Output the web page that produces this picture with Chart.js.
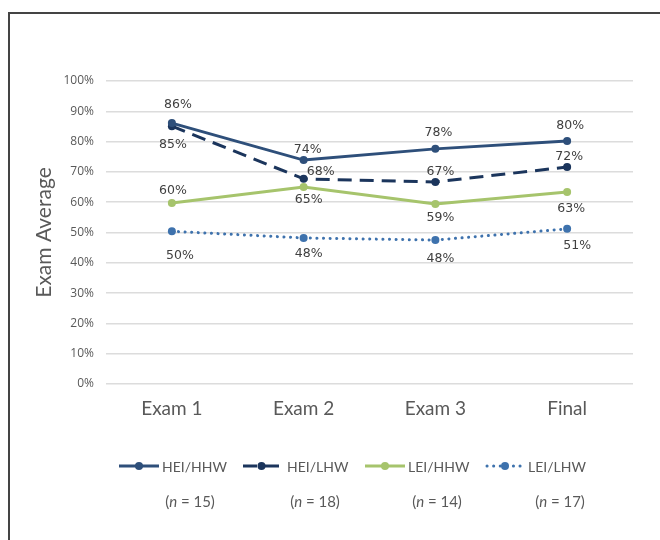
<!DOCTYPE html>
<html>
<head>
<meta charset="utf-8">
<script src="https://cdn.jsdelivr.net/npm/chart.js@4.4.1/dist/chart.umd.min.js"></script>
<style>
  html, body { margin: 0; padding: 0; background: #fff; }
  #wrap { width: 660px; height: 540px; position: relative; }
</style>
</head>
<body>
<div id="wrap"><canvas id="examChart" width="660" height="540"></canvas></div>
<script>
// Data
const categories = ["Exam 1", "Exam 2", "Exam 3", "Final"];
const seriesNames = ["HEI/HHW", "HEI/LHW", "LEI/HHW", "LEI/LHW"];
const groupSizes = [15, 18, 14, 17];
const heiHhw = [86.1, 73.9, 77.6, 80.2];
const heiLhw = [85.1, 67.7, 66.7, 71.6];
const leiHhw = [59.7, 65.0, 59.4, 63.4];
const leiLhw = [50.4, 48.2, 47.5, 51.2];

// Colours
const COLORS = ["#2e4f7a", "#1b355c", "#a6c46c", "#3e72ad"];
const TEXT_GREY = "#595959";

// where each value label sits, relative to its point [dx, dy]
const labelOffsets = [
  [[6, -18], [4, -10], [3, -16], [3, -15]],
  [[1, 19], [17, -7], [5, -10], [2, -10]],
  [[1, -12], [5, 13], [5, 14], [4, 17]],
  [[8, 24], [5, 16], [5, 19], [10, 17]]
];

// legend positions: line start, line end, text start
const legendItems = [
  [119, 159, 162],
  [243, 280, 287],
  [365, 405, 408],
  [487, 523, 528]
];
const legendY = 466;
const nCenters = [190, 315, 437, 560];
const nY = 502;

const makeDataset = (index, values, dash, cap) => {
  return {
    label: seriesNames[index],
    data: values,
    borderColor: COLORS[index],
    backgroundColor: COLORS[index],
    pointBackgroundColor: COLORS[index],
    pointBorderColor: COLORS[index],
    borderWidth: 3,
    borderDash: dash,
    borderCapStyle: cap,
    pointRadius: 4,
    pointBorderWidth: 0,
    pointHoverRadius: 4,
    tension: 0,
    fill: false
  };
};

// value labels next to each point
const valueLabels = {
  id: "valueLabels",
  afterDatasetsDraw(chart) {
    const ctx = chart.ctx;
    ctx.save();
    ctx.font = "12.5px 'DejaVu Sans'";
    ctx.fillStyle = "#404040";
    ctx.textAlign = "center";
    ctx.textBaseline = "middle";
    chart.data.datasets.forEach((dataset, i) => {
      const meta = chart.getDatasetMeta(i);
      meta.data.forEach((point, j) => {
        const off = labelOffsets[i][j];
        ctx.fillText(Math.round(dataset.data[j]) + "%", point.x + off[0], point.y + off[1]);
      });
    });
    ctx.restore();
  }
};

// frame, legend and group sizes
const extras = {
  id: "extras",
  beforeDraw(chart) {
    const ctx = chart.ctx;
    ctx.save();
    ctx.fillStyle = "#fff";
    ctx.fillRect(0, 0, chart.width, chart.height);
    ctx.strokeStyle = "#444";
    ctx.lineWidth = 2;
    ctx.beginPath();
    ctx.moveTo(9, 540);
    ctx.lineTo(9, 13);
    ctx.lineTo(660, 13);
    ctx.stroke();
    ctx.restore();
  },
  afterDraw(chart) {
    const ctx = chart.ctx;
    ctx.save();
    chart.data.datasets.forEach((dataset, i) => {
      const item = legendItems[i];
      ctx.strokeStyle = dataset.borderColor;
      ctx.lineWidth = 3;
      ctx.lineCap = dataset.borderCapStyle;
      ctx.setLineDash(dataset.borderDash);
      ctx.beginPath();
      ctx.moveTo(item[0], legendY);
      ctx.lineTo(item[1], legendY);
      ctx.stroke();
      ctx.setLineDash([]);
      ctx.fillStyle = dataset.borderColor;
      ctx.beginPath();
      ctx.arc((item[0] + item[1]) / 2, legendY, 4, 0, Math.PI * 2);
      ctx.fill();
      ctx.fillStyle = TEXT_GREY;
      ctx.font = "14px Lato";
      ctx.textAlign = "left";
      ctx.textBaseline = "middle";
      ctx.fillText(dataset.label, item[2], legendY + 1);
    });

    // (n = xx) under each legend entry
    ctx.fillStyle = TEXT_GREY;
    ctx.textBaseline = "middle";
    groupSizes.forEach((n, i) => {
      const parts = [["(", "15px Lato"], ["n", "italic 15px Lato"], [" = " + n + ")", "15px Lato"]];
      let total = 0;
      parts.forEach((p) => { ctx.font = p[1]; total += ctx.measureText(p[0]).width; });
      let x = nCenters[i] - total / 2;
      ctx.textAlign = "left";
      parts.forEach((p) => {
        ctx.font = p[1];
        ctx.fillText(p[0], x, nY);
        x += ctx.measureText(p[0]).width;
      });
    });
    ctx.restore();
  }
};

const setup = () => {
  const ctx = document.getElementById("examChart").getContext("2d");
  new Chart(ctx, {
    type: "line",
    data: {
      labels: categories,
      datasets: [
        makeDataset(0, heiHhw, [], "butt"),
        makeDataset(1, heiLhw, [14, 8], "butt"),
        makeDataset(2, leiHhw, [], "butt"),
        makeDataset(3, leiLhw, [0.1, 6.5], "round")
      ]
    },
    options: {
      responsive: false,
      animation: false,
      layout: {
        padding: { left: 32, right: 27, top: 81, bottom: 116 }
      },
      plugins: {
        legend: { display: false },
        tooltip: { enabled: false }
      },
      scales: {
        x: {
          offset: true,
          grid: { display: false },
          border: { display: false },
          ticks: {
            color: TEXT_GREY,
            font: { family: "Lato", size: 19 },
            padding: 5
          },
          afterFit: (scale) => { scale.height = 40; }
        },
        y: {
          min: 0,
          max: 100,
          ticks: {
            stepSize: 10,
            color: TEXT_GREY,
            font: { family: "'Open Sans'", size: 12 },
            padding: 12,
            callback: (value) => value + "%"
          },
          grid: { color: "#dcdcdc", lineWidth: 1.5, drawTicks: false },
          border: { display: false },
          title: {
            display: true,
            text: "Exam Average",
            color: TEXT_GREY,
            font: { family: "Lato", size: 21 },
            padding: 0
          },
          afterFit: (scale) => { scale.width = 74; }
        }
      }
    },
    plugins: [extras, valueLabels]
  });
};

window.addEventListener("load", setup);
</script>
</body>
</html>
